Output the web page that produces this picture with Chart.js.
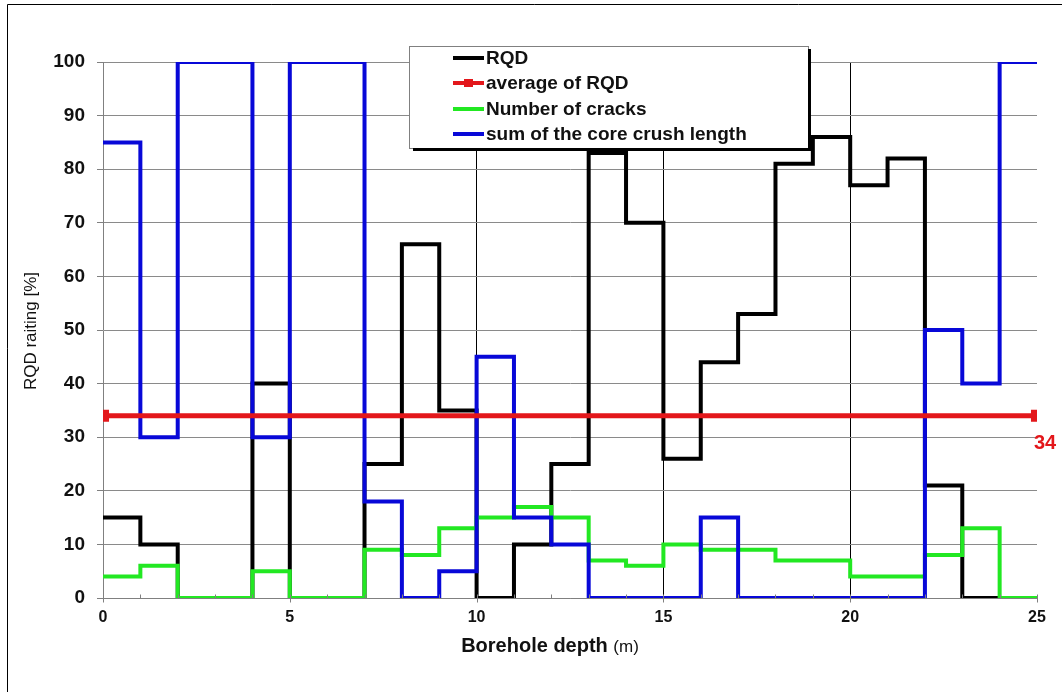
<!DOCTYPE html>
<html>
<head>
<meta charset="utf-8">
<script src="https://cdn.jsdelivr.net/npm/chart.js@4.4.1/dist/chart.umd.min.js"></script>
<style>
html,body{margin:0;padding:0;background:#fff;}
#wrap{width:1062px;height:692px;position:relative;}
</style>
</head>
<body>
<div id="wrap"><canvas id="c" width="1062" height="692"></canvas></div>
<script>
// ---- data ----
const depths = [0,1,2,3,4,5,6,7,8,9,10,11,12,13,14,15,16,17,18,19,20,21,22,23,24,25];
// value for each 1 m interval (0-1, 1-2, ... 24-25)
const rqd    = [15,10,0,0,40,0,0,25,66,35,0,10,25,83,70,26,44,53,81,86,77,82,21,0,0];
const cracks = [4,6,0,0,5,0,0,9,8,13,15,17,15,7,6,10,9,9,7,7,4,4,8,13,0];
const crush  = [85,30,100,100,30,100,100,18,0,5,45,15,10,0,0,0,15,0,0,0,0,0,50,40,100];
const rqdAverage = 34;
const yTicks = [0,10,20,30,40,50,60,70,80,90,100];
const xLabelTicks = [0,5,10,15,20,25];
const seriesNames = ['RQD','average of RQD','Number of cracks','sum of the core crush length'];

function stepPoints(vals){
  return depths.map((d,i)=>({x:d, y: vals[Math.min(i, vals.length-1)]}));
}

const COL_BLACK='#000000', COL_RED='#e3171b', COL_GREEN='#22e822', COL_BLUE='#0808d8';
const FONT='"Liberation Sans", Arial, sans-serif';

const framePlugin = {
  id:'frame',
  beforeDraw(chart){
    const ctx=chart.ctx;
    ctx.save();
    ctx.fillStyle='#fff';
    ctx.fillRect(0,0,chart.width,chart.height);
    ctx.strokeStyle='#000'; ctx.lineWidth=1;
    ctx.beginPath(); ctx.moveTo(7.5,chart.height); ctx.lineTo(7.5,4.5); ctx.lineTo(chart.width,4.5); ctx.stroke();
    ctx.restore();
  },
  afterDatasetsDraw(chart){
    const ctx=chart.ctx, xs=chart.scales.x, ys=chart.scales.y;
    ctx.save();
    // minor ticks on x axis
    ctx.strokeStyle='#808080'; ctx.lineWidth=1;
    const yb=Math.round(ys.getPixelForValue(0))+0.5;
    depths.forEach(d=>{
      const px=Math.round(xs.getPixelForValue(d))+0.5;
      ctx.beginPath(); ctx.moveTo(px,yb-4); ctx.lineTo(px,yb+ (d%5===0?4:0)); ctx.stroke();
    });
    // average label
    ctx.fillStyle=COL_RED;
    ctx.font='bold 20px '+FONT;
    ctx.textAlign='center'; ctx.textBaseline='middle';
    ctx.fillText(String(rqdAverage), xs.getPixelForValue(25)+8, ys.getPixelForValue(rqdAverage)+28);
    // axis titles
    ctx.fillStyle='#111';
    ctx.save();
    ctx.translate(31, 331); ctx.rotate(-Math.PI/2);
    ctx.font='17px '+FONT;
    ctx.fillText('RQD raiting [%]',0,0);
    ctx.restore();
    ctx.textAlign='left';
    const t1='Borehole depth ';
    ctx.font='bold 20px '+FONT;
    const w1=ctx.measureText(t1).width;
    ctx.font='17px '+FONT;
    const w2=ctx.measureText('(m)').width;
    const sx=550-(w1+w2)/2;
    ctx.font='bold 20px '+FONT;
    ctx.fillText(t1,sx,646);
    ctx.font='17px '+FONT;
    ctx.fillText('(m)',sx+w1,647);
    // legend
    const lx=409, ly=46, lw=399, lh=102;
    ctx.fillStyle='#fff'; ctx.fillRect(lx,ly,lw,lh);
    ctx.strokeStyle='#808080'; ctx.lineWidth=1;
    ctx.strokeRect(lx+0.5,ly+0.5,lw,lh);
    ctx.strokeStyle='#000'; ctx.lineWidth=3;
    ctx.beginPath(); ctx.moveTo(lx+4,ly+lh+1.5); ctx.lineTo(lx+lw+1.5,ly+lh+1.5); ctx.lineTo(lx+lw+1.5,ly+3); ctx.stroke();
    const ds=chart.data.datasets;
    const rows=[58,83,109,134];
    ctx.font='bold 19px '+FONT;
    ctx.textAlign='left'; ctx.textBaseline='middle';
    seriesNames.forEach((name,i)=>{
      const d=ds.find(s=>s.label===name);
      ctx.strokeStyle=d.borderColor; ctx.lineWidth=4;
      ctx.beginPath(); ctx.moveTo(453,rows[i]); ctx.lineTo(484,rows[i]); ctx.stroke();
      if(name==='average of RQD'){ ctx.fillStyle=d.borderColor; ctx.fillRect(464,rows[i]-4,9,8); }
      ctx.fillStyle='#111';
      ctx.fillText(name,486,rows[i]+1);
    });
    ctx.restore();
  }
};

new Chart(document.getElementById('c'),{
  type:'line',
  data:{
    datasets:[
      {label:seriesNames[1], data:[{x:depths[0],y:rqdAverage},{x:depths[depths.length-1],y:rqdAverage}],
       borderColor:COL_RED, backgroundColor:COL_RED, borderWidth:5, pointStyle:'rect', pointRadius:5, order:1},
      {label:seriesNames[3], data:stepPoints(crush), borderColor:COL_BLUE, borderWidth:4, stepped:'before', pointRadius:0, order:2},
      {label:seriesNames[2], data:stepPoints(cracks), borderColor:COL_GREEN, borderWidth:4, stepped:'before', pointRadius:0, order:3},
      {label:seriesNames[0], data:stepPoints(rqd), borderColor:COL_BLACK, borderWidth:4, stepped:'before', pointRadius:0, order:4}
    ]
  },
  options:{
    responsive:false, animation:false,
    layout:{padding:{left:0,top:62,right:25,bottom:0}},
    plugins:{legend:{display:false}, tooltip:{enabled:false}},
    elements:{line:{borderJoinStyle:'miter', borderCapStyle:'butt', tension:0}},
    scales:{
      x:{type:'linear', min:0, max:25,
        afterFit(s){ s.height=94; },
        afterBuildTicks(s){ s.ticks=depths.map(v=>({value:v})); },
        ticks:{autoSkip:false, maxRotation:0, padding:10, color:'#111',
          font:{family:FONT, size:16, weight:'bold'},
          callback:(v)=> xLabelTicks.includes(v)? String(v):''},
        grid:{drawTicks:false,
          color:(c)=> (c.tick && xLabelTicks.includes(c.tick.value) && c.tick.value>0 && c.tick.value<25)?'#000':'rgba(0,0,0,0)',
          lineWidth:1},
        border:{display:true,color:'#808080',width:1}
      },
      y:{min:0,max:100,
        afterFit(s){ s.width=103; },
        afterBuildTicks(s){ s.ticks=yTicks.map(v=>({value:v})); },
        ticks:{padding:12, color:'#111',
          font:{family:FONT, size:19, weight:'bold'}},
        grid:{color:'#8a8a8a', tickColor:'#808080', tickLength:6, lineWidth:1},
        border:{display:true,color:'#808080',width:1}
      }
    }
  },
  plugins:[framePlugin]
});
</script>
</body>
</html>
